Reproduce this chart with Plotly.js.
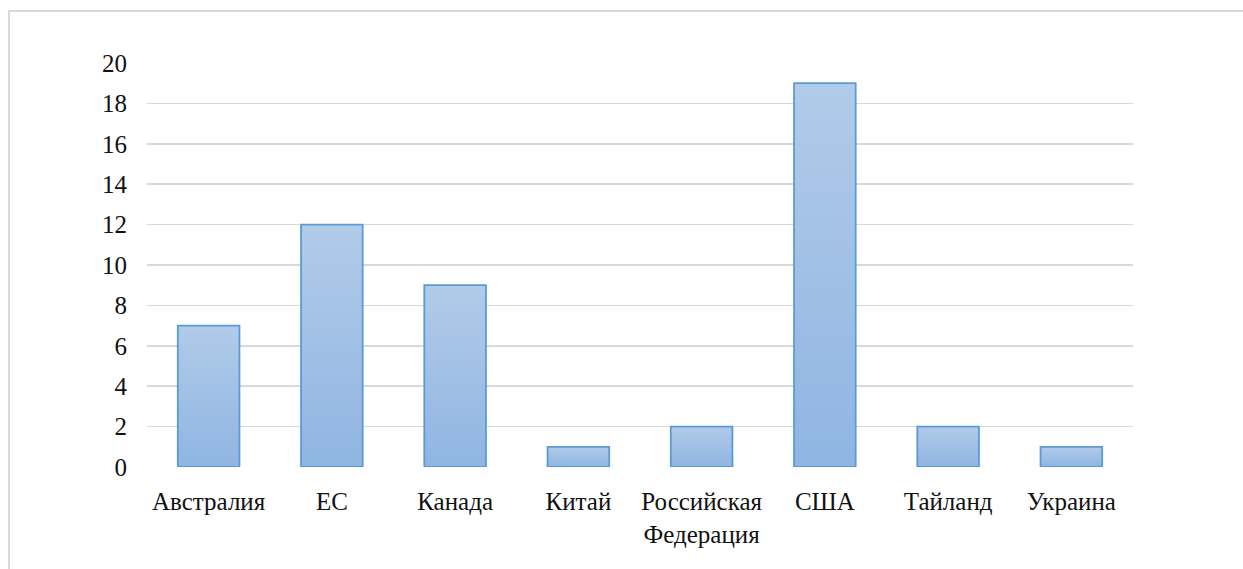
<!DOCTYPE html>
<html><head><meta charset="utf-8">
<script src="https://cdn.plot.ly/plotly-3.0.1.min.js"></script>
<style>
html,body{margin:0;padding:0;background:#fff;}
#wrap{position:relative;width:1243px;height:569px;overflow:hidden;}
#frame{position:absolute;left:8px;top:10px;width:1300px;height:600px;border:2px solid #d9d9d9;box-sizing:border-box;pointer-events:none;}
#chart{position:absolute;left:0;top:0;width:1243px;height:569px;}
</style></head>
<body><div id="wrap"><div id="chart"></div><div id="frame"></div></div>
<script>
const categories = ["Австралия","ЕС","Канада","Китай","Российская<br>Федерация","США","Тайланд","Украина"];
const values = [7,12,9,1,2,19,2,1];
const yTicks = [0,2,4,6,8,10,12,14,16,18,20];

const font = {family:"Liberation Serif, DejaVu Serif, serif", size:25, color:"#111111"};
Plotly.newPlot("chart",[{
  type:"bar", x:categories, y:values,
  marker:{color:"#a2c1e6", line:{color:"#5b9bd5", width:1.8}},
  hoverinfo:"skip"
}],{
  width:1243, height:569,
  margin:{l:147, r:110, t:63, b:102},
  paper_bgcolor:"#fff", plot_bgcolor:"#fff",
  bargap:0.5,
  font:font,
  showlegend:false,
  xaxis:{showgrid:false, zeroline:false, showline:false, ticks:"", tickfont:font, ticklabelstandoff:17},
  yaxis:{range:[0,20], tickvals:yTicks, showgrid:true, gridcolor:"#d9d9d9", gridwidth:1.5, zeroline:false, showline:false, ticks:"", tickfont:font, ticklabelstandoff:19}
},{displayModeBar:false, staticPlot:true}).then(gd=>{
  const svg = gd.querySelector("svg.main-svg");
  const ns = "http://www.w3.org/2000/svg";
  let defs = svg.querySelector("defs");
  const g = document.createElementNS(ns,"linearGradient");
  g.setAttribute("id","barGrad"); g.setAttribute("x1","0"); g.setAttribute("y1","0"); g.setAttribute("x2","0"); g.setAttribute("y2","1");
  [["0","#b1cbe9"],["1","#8fb5e2"]].forEach(([o,c])=>{const s=document.createElementNS(ns,"stop");s.setAttribute("offset",o);s.setAttribute("stop-color",c);g.appendChild(s);});
  defs.appendChild(g);
  gd.querySelectorAll(".bars .point path").forEach(p=>{p.style.fill="url(#barGrad)";});
});
</script></body></html>
